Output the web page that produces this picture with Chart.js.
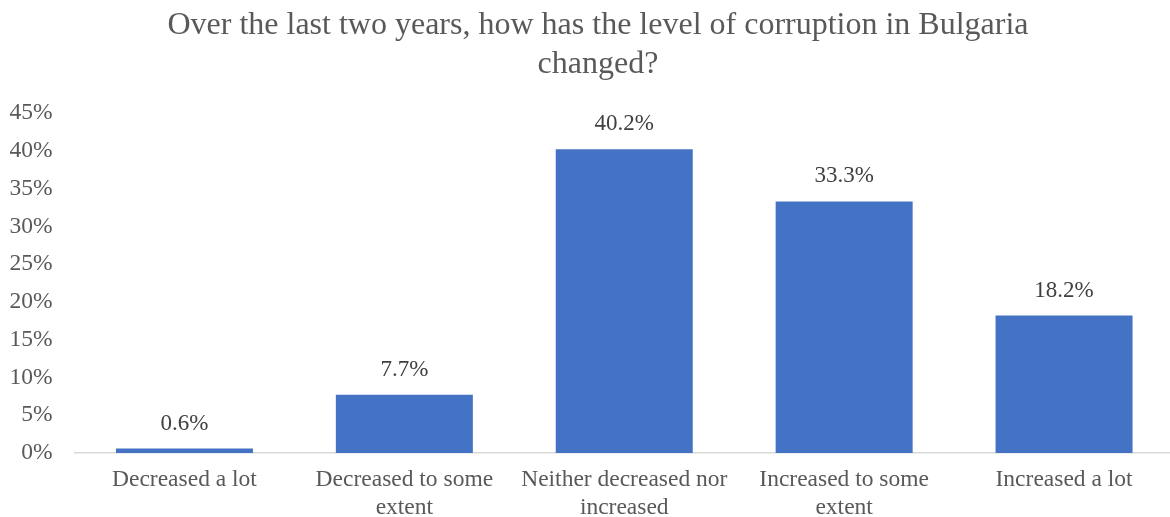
<!DOCTYPE html>
<html>
<head>
<meta charset="utf-8">
<script src="https://cdn.jsdelivr.net/npm/chart.js@4.4.1/dist/chart.umd.min.js"></script>
<style>
  html, body { margin: 0; padding: 0; background: #ffffff; overflow: hidden; }
  #wrap { position: relative; width: 1174px; height: 517px; }
</style>
</head>
<body>
<div id="wrap"><canvas id="chart"></canvas></div>
<script>
// Survey answers and share of respondents (%)
const categories = [
  "Decreased a lot",
  ["Decreased to some", "extent"],
  ["Neither decreased nor", "increased"],
  ["Increased to some", "extent"],
  "Increased a lot"
];
const shares = [0.6, 7.7, 40.2, 33.3, 18.2];
const titleLines = [
  "Over the last two years, how has the level of corruption in Bulgaria",
  "changed?"
];

const SERIF = "'Liberation Serif', 'Times New Roman', serif";

// Title drawn centred over the figure
const titlePlugin = {
  id: 'titleLines',
  afterDraw(chart) {
    const ctx = chart.ctx;
    ctx.save();
    ctx.font = "32px " + SERIF;
    ctx.fillStyle = "#595959";
    ctx.textAlign = "center";
    ctx.textBaseline = "middle";
    titleLines.forEach((t, i) => ctx.fillText(t, 598, 26 + i * 39));
    ctx.restore();
  }
};

// Value labels above each bar
const valueLabels = {
  id: 'valueLabels',
  afterDatasetsDraw(chart) {
    const ctx = chart.ctx;
    const meta = chart.getDatasetMeta(0);
    ctx.save();
    ctx.font = "23px " + SERIF;
    ctx.fillStyle = "#404040";
    ctx.textAlign = "center";
    ctx.textBaseline = "middle";
    meta.data.forEach((bar, i) => {
      ctx.fillText(shares[i].toFixed(1) + "%", bar.x, bar.y - 25);
    });
    ctx.restore();
  }
};

new Chart(document.getElementById('chart'), {
  type: 'bar',
  data: {
    labels: categories,
    datasets: [{
      data: shares,
      backgroundColor: '#4472C4',
      borderWidth: 0,
      categoryPercentage: 1.0,
      barPercentage: 0.623
    }]
  },
  options: {
    responsive: true,
    maintainAspectRatio: false,
    animation: false,
    layout: { padding: { top: 113, left: 0, right: 0, bottom: 0 } },
    plugins: {
      legend: { display: false },
      title: { display: false },
      tooltip: { enabled: false }
    },
    scales: {
      x: {
        grid: { display: false, drawTicks: false },
        border: { display: true, color: '#d9d9d9', width: 1.5 },
        ticks: {
          color: '#595959',
          font: { family: SERIF, size: 23.5, lineHeight: 1.2 },
          padding: 13,
          maxRotation: 0,
          autoSkip: false
        },
        afterFit(scale) { scale.height = 64; }
      },
      y: {
        min: 0,
        max: 45,
        grid: { display: false, drawTicks: false },
        border: { display: false },
        ticks: {
          stepSize: 5,
          color: '#595959',
          font: { family: SERIF, size: 23.5 },
          padding: 22,
          callback: v => v + '%'
        },
        afterFit(scale) { scale.width = 74.5; }
      }
    }
  },
  plugins: [titlePlugin, valueLabels]
});
</script>
</body>
</html>
